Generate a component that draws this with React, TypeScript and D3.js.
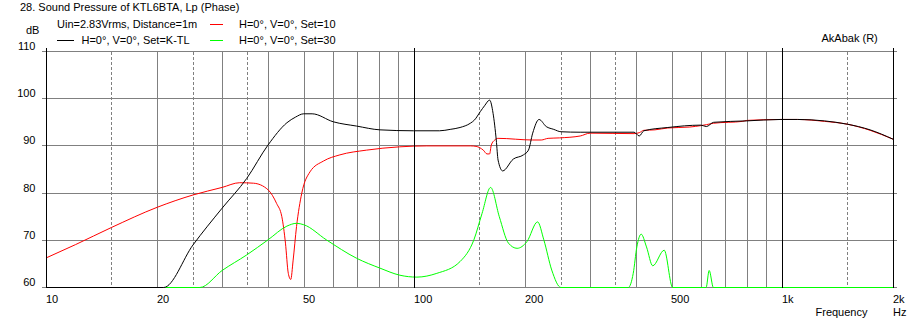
import * as d3 from 'd3';

// Sound pressure level, KTL6BTA, three simulation sets (dB SPL vs Hz)
const blackFreq = [10, 20.8, 25, 30, 35, 40, 45, 47.5, 50, 52.7, 60.2, 69.6, 80.6, 99.5, 117, 125, 133, 141.8, 145.6, 150.9, 155, 160, 163.5, 166.8, 168.7, 173.6, 185.5, 197.7, 204, 209.5, 218, 228, 239, 250, 282, 300, 395, 408, 420, 488, 600, 621, 650, 800, 990, 1100, 1300, 1500, 1730, 2000];
const blackDb = [60, 60, 69.0, 76.8, 83.1, 90.2, 94.9, 96.1, 96.8, 96.8, 95.1, 94.2, 93.4, 93.2, 93.2, 93.5, 93.9, 94.8, 95.5, 97.25, 98.5, 99.7, 96.9, 91.25, 87.0, 84.7, 87.2, 88.1, 89.1, 92.7, 95.6, 94.1, 93.5, 93.0, 92.9, 92.9, 92.9, 92.1, 93.2, 93.9, 94.4, 94.1, 95.0, 95.3, 95.6, 95.6, 95.3, 94.6, 93.4, 91.4];

const redFreq = [10, 12, 15, 20, 25, 30, 33.5, 36.5, 40, 42.2, 43.6, 44.6, 45.4, 46.1, 46.8, 47.8, 49.4, 52, 56.6, 62.7, 74, 91, 108, 142, 147, 153.8, 157.4, 160, 161.7, 165.2, 168.7, 209.5, 221, 230.7, 248, 282, 300, 395, 408, 420, 450, 488, 560, 600, 621, 650, 780, 800, 990, 1100, 1300, 1500, 1730, 2000];
const redDb = [66.3, 69.1, 72.7, 77.0, 79.6, 81.2, 82.2, 82.1, 80.7, 77.8, 75.0, 69.4, 63.0, 61.7, 65.8, 72.9, 80.0, 84.5, 86.8, 88.1, 89.1, 89.8, 90.0, 90.0, 89.9, 89.1, 88.3, 88.3, 90.2, 91.25, 91.6, 91.25, 91.25, 91.6, 91.7, 92.1, 92.7, 92.6, 92.8, 93.3, 93.4, 93.8, 94.0, 94.3, 94.5, 94.8, 95.2, 95.4, 95.6, 95.6, 95.2, 94.6, 93.3, 91.4];

const greenFreq = [21, 26.1, 30, 35, 40, 45, 47.8, 50, 57.6, 69.6, 80.6, 91.3, 101.5, 115, 133, 145, 152.6, 161, 170, 180, 190, 202, 216, 224.6, 236, 250, 381, 393, 402, 413, 427, 444, 477, 503, 620, 632, 649, 2000];
const greenDb = [60, 60, 63.6, 66.9, 70.1, 73.0, 73.6, 73.3, 70.1, 66.2, 64.1, 62.6, 62.2, 63.0, 65.5, 70.1, 75.7, 81.2, 75.0, 69.4, 68.3, 69.7, 73.9, 70.1, 63.7, 60, 60, 63.0, 68.6, 71.3, 68.6, 64.6, 67.9, 60, 60, 63.6, 60, 60];

const freqTicks = [10, 20, 50, 100, 200, 500, 1000, 2000];
const freqTickLabels = ['10', '20', '50', '100', '200', '500', '1k', '2k'];
const dbTicks = [60, 70, 80, 90, 100, 110];

const W = 920;
const H = 324;
const FONT = '"Liberation Sans", Arial, sans-serif';
const GRID = '#808080';

export default function App() {
  const x = d3.scaleLog().domain([10, 2000]).range([46.5, 46.5 + 368 * Math.log10(200)]);
  const y = d3.scaleLinear().domain([60, 110]).range([287.5, 51.5]).clamp(true);

  // vertical grid: decades black, 2..9 solid gray, 1.5/2.5/3.5 dashed
  const solid: number[] = [];
  const dashed: number[] = [];
  [10, 100, 1000].forEach((dec) => {
    for (let m = 2; m <= 9; m++) if (dec * m < 2000) solid.push(dec * m);
    [1.5, 2.5, 3.5].forEach((m) => { if (dec * m < 2000) dashed.push(dec * m); });
  });
  const decades = [10, 100, 1000, 2000];

  const mkLine = (fs: number[], ds: number[]) =>
    d3.line<number>().x((_d, i) => x(fs[i])).y((d) => y(d)).curve(d3.curveMonotoneX)(ds) ?? '';

  const x0 = x(10);
  const x1 = x(2000);

  return (
    <svg width={W} height={H} style={{ position: 'absolute', left: 0, top: 0, background: '#fff' }}
      fontFamily={FONT} fontSize={11}>
      <rect width={W} height={H} fill="#fff" />
      <text x={20} y={11}>28. Sound Pressure of KTL6BTA, Lp (Phase)</text>
      <text x={57} y={27.5}>Uin=2.83Vrms, Distance=1m</text>
      <line x1={57} x2={74} y1={40.5} y2={40.5} stroke="#000" />
      <text x={81.5} y={43.5}>H=0°, V=0°, Set=K-TL</text>
      <line x1={210} x2={223} y1={24.5} y2={24.5} stroke="#ff0000" />
      <text x={239} y={27.5}>H=0°, V=0°, Set=10</text>
      <line x1={210} x2={223} y1={40.5} y2={40.5} stroke="#00ff00" />
      <text x={239} y={43.5}>H=0°, V=0°, Set=30</text>
      <text x={26} y={33.5}>dB</text>
      <text x={821.5} y={42}>AkAbak (R)</text>

      {dbTicks.map((d) => (
        <g key={d}>
          <line x1={x0 - 4.5} x2={x1 + 3.5} y1={y(d)} y2={y(d)} stroke={GRID} shapeRendering="crispEdges" />
          <text x={35.5} y={y(d) - 1.5} textAnchor="end">{d}</text>
        </g>
      ))}
      {solid.map((f) => (
        <line key={'s' + f} x1={Math.round(x(f)) + 0.5} x2={Math.round(x(f)) + 0.5} y1={y(110)} y2={y(60)}
          stroke={GRID} shapeRendering="crispEdges" />
      ))}
      {dashed.map((f) => (
        <line key={'d' + f} x1={Math.round(x(f)) + 0.5} x2={Math.round(x(f)) + 0.5} y1={y(110)} y2={y(60)}
          stroke={GRID} strokeDasharray="3,2" shapeRendering="crispEdges" />
      ))}

      <g fill="none" strokeWidth={1}>
        <path d={mkLine(redFreq, redDb)} stroke="#ff0000" />
        <path d={mkLine(greenFreq, greenDb)} stroke="#00ff00" />
        <path d={mkLine(blackFreq, blackDb)} stroke="#000" />
      </g>

      {decades.map((f) => (
        <line key={'k' + f} x1={Math.floor(x(f)) + 0.5} x2={Math.floor(x(f)) + 0.5} y1={y(110) - 4} y2={y(60)}
          stroke="#000" shapeRendering="crispEdges" />
      ))}

      {freqTicks.map((f, i) => (
        <text key={'t' + f} x={Math.floor(x(f))} y={302.5}>{freqTickLabels[i]}</text>
      ))}
      <text x={815.5} y={315.5}>Frequency</text>
      <text x={893} y={315.5}>Hz</text>
    </svg>
  );
}
